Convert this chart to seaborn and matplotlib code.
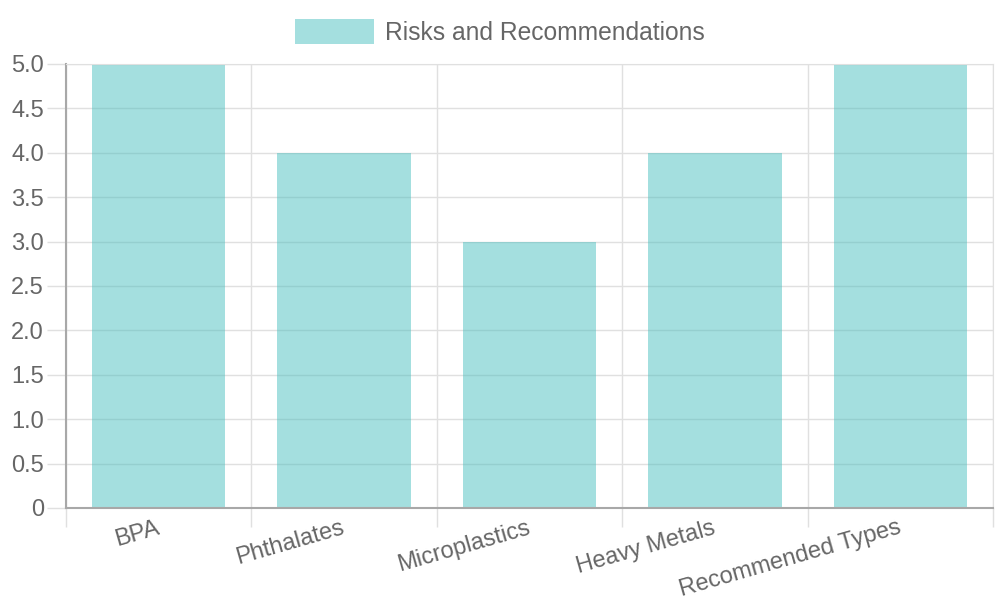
import numpy as np
import pandas as pd
import matplotlib
matplotlib.use("Agg")
import matplotlib.pyplot as plt
import seaborn as sns

# data
categories = ["BPA", "Phthalates", "Microplastics", "Heavy Metals", "Recommended Types"]
values = [5, 4, 3, 4, 5]
series_name = "Risks and Recommendations"

sns.set_style("white")
plt.rcParams['font.family'] = ['Liberation Sans', 'DejaVu Sans']

df = pd.DataFrame({"category": categories, "value": values})

bar_color = (75 / 255, 192 / 255, 192 / 255, 0.5)
grid_color = "#e0e0e0"
text_color = "#666666"

fig = plt.figure(figsize=(10, 6), dpi=100)
ax = fig.add_axes([0.066, 92 / 600, 0.927, 444 / 600])

sns.barplot(data=df, x="category", y="value", color=bar_color, saturation=1,
            width=0.72, edgecolor="none", ax=ax, label=series_name, zorder=2)
# seaborn may drop alpha, force it back
for p in ax.patches:
    p.set_facecolor(bar_color)

n = len(categories)
ax.set_xlim(-0.5, n - 0.5)
ax.set_ylim(0, 5)

# grid lines at category boundaries (chart.js offset grid)
ax.set_xticks(np.arange(-0.5, n, 1.0))
ax.set_xticklabels([])
ax.set_xticks(np.arange(n), minor=True)
ax.set_xticklabels(categories, minor=True, rotation=16, ha="right", va="center",
                   rotation_mode="anchor", color=text_color, fontsize=17)
ax.tick_params(axis="x", which="major", bottom=True, direction="out",
               length=14, color=grid_color, width=1)
ax.tick_params(axis="x", which="minor", bottom=True, length=0, pad=14)

yt = np.arange(0, 5.01, 0.5)
ax.set_yticks(yt)
ax.set_yticklabels(["0"] + [f"{v:.1f}" for v in yt[1:]], color=text_color, fontsize=17)
ax.tick_params(axis="y", left=True, direction="out", length=14,
               color=grid_color, width=1, pad=2)

ax.grid(True, which="major", color=grid_color, linewidth=1, zorder=0)
ax.set_axisbelow(True)
ax.set_xlabel("")
ax.set_ylabel("")

for side in ["top", "right"]:
    ax.spines[side].set_color(grid_color)
for side in ["left", "bottom"]:
    ax.spines[side].set_color("#a8a8a8")
    ax.spines[side].set_linewidth(1.5)

if ax.get_legend() is not None:
    ax.get_legend().remove()
handles, labels = ax.get_legend_handles_labels()
leg = fig.legend(handles[:1], labels[:1], loc="center", bbox_to_anchor=(0.5, 1 - 32 / 600),
                 frameon=False, fontsize=17.7, handlelength=3.2, handleheight=1.15,
                 handletextpad=0.45, labelcolor=text_color)

fig.savefig("out.png", dpi=100)
